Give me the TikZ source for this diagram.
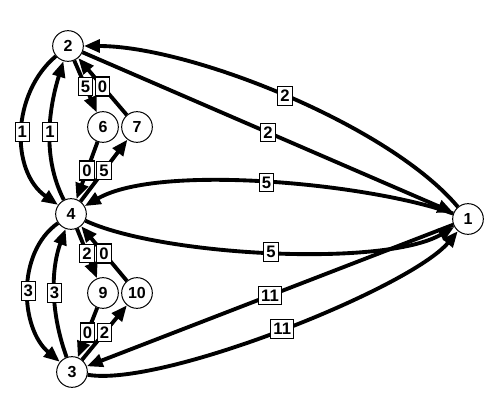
\documentclass[tikz,border=0pt]{standalone}
\usepackage{fontspec}
\setmainfont{Liberation Sans}
\usetikzlibrary{arrows.meta}
\tikzset{
  vertex/.style={circle,draw,line width=0.75pt,minimum size=23pt,inner sep=0pt,fill=white,font=\fontsize{12}{14}\selectfont\bfseries},
  edge/.style={line width=2.9pt,-{Triangle[length=12pt,width=9.5pt]}},
  lbl/.style={draw,fill=white,line width=0.8pt,inner xsep=1.9pt,inner ysep=2.7pt,font=\fontsize{12.5}{14}\selectfont\bfseries}
}
\begin{document}
\begin{tikzpicture}[x=0.75pt,y=0.75pt]
\useasboundingbox (0,0) rectangle (502,-417);
% the vertices
\foreach \n/\x/\y in {1/468/219,2/68/46,3/72/372,4/71/214,6/103/127,7/137/127,9/103/293,10/137/293}
  \node[vertex] (v\n) at (\x,-\y) {\n};
% the straight edges
\foreach \a/\b/\w in {2/6/5,7/2/0,6/4/0,4/7/5,4/9/2,10/4/0,9/3/0,3/10/2,2/1/2,1/3/11}
  \draw[edge] (v\a) -- node[lbl] {\w} (v\b);
% the curved edges
\draw[edge] (v1) to[out=130,in=0,looseness=0.67] node[lbl] {2} (v2);
\draw[edge] (v1) to[out=160,in=30,looseness=0.6] node[lbl] {5} (v4);
\draw[edge] (v4) to[out=335,in=210,looseness=0.57] node[lbl] {5} (v1);
\draw[edge] (v3) to[out=350,in=230,looseness=0.48] node[lbl] {11} (v1);
\draw[edge] (v2) to[out=220,in=145] node[lbl] {1} (v4);
\draw[edge] (v4) to[out=117,in=253,looseness=0.9] node[lbl] {1} (v2);
\draw[edge] (v4) to[out=215,in=140,looseness=0.95] node[lbl] {3} (v3);
\draw[edge] (v3) to[out=110,in=250,looseness=0.9] node[lbl] {3} (v4);
\end{tikzpicture}
\end{document}
